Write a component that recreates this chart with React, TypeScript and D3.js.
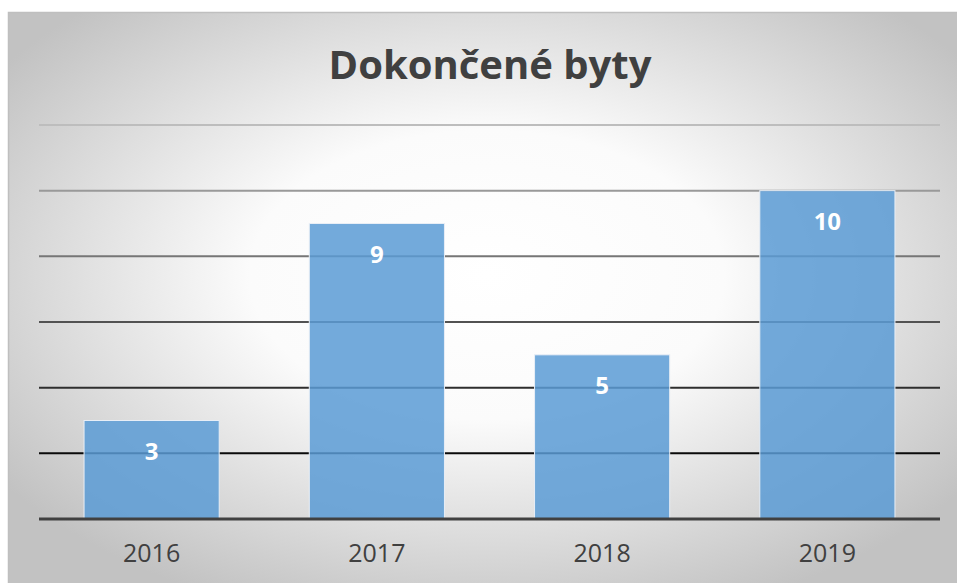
import React from 'react'
import * as d3 from 'd3'

const years = ['2016', '2017', '2018', '2019']
const values = [3, 9, 5, 10]
const gridTicks = [2, 4, 6, 8, 10, 12]
const title = 'Dokončené byty'

const W = 957
const H = 583

export default function App() {
  const x = d3.scaleBand().domain(years).range([39, 940]).paddingInner(0.4).paddingOuter(0.2)
  const y = d3.scaleLinear().domain([0, 12]).range([519, 125])
  const gridColor = d3.scaleLinear<string>().domain([125, 454]).range(['#bdbdbd', '#0a0a0a'])

  return (
    <svg width={W} height={H} style={{ position: 'absolute', left: 0, top: 0, fontFamily: 'Open Sans, sans-serif' }}>
      <defs>
        <radialGradient id="bg" cx="0.5" cy="0.45" r="0.62">
          <stop offset="0%" stopColor="#ffffff" />
          <stop offset="40%" stopColor="#fbfbfb" />
          <stop offset="100%" stopColor="#c2c2c2" />
        </radialGradient>
      </defs>
      <rect x={8.5} y={12.5} width={W} height={H} fill="url(#bg)" stroke="#bfbfbf" strokeWidth={1.5} />
      <text x={490} y={79} textAnchor="middle" fontSize={40} fontWeight="bold" fill="#404040">
        {title}
      </text>
      {gridTicks.map(t => (
        <line key={t} x1={39} x2={940} y1={y(t)} y2={y(t)} stroke={gridColor(y(t))} strokeWidth={2} />
      ))}
      {years.map((yr, i) => (
        <g key={yr}>
          <rect
            x={x(yr)}
            y={y(values[i])}
            width={x.bandwidth()}
            height={y(0) - y(values[i])}
            fill="#5b9bd5"
            fillOpacity={0.85}
            stroke="#e8eef6"
            strokeWidth={1}
          />
          <text
            x={(x(yr) as number) + x.bandwidth() / 2}
            y={y(values[i]) + 39}
            textAnchor="middle"
            fontSize={24}
            fontWeight="bold"
            fill="#ffffff"
          >
            {values[i]}
          </text>
          <text
            x={(x(yr) as number) + x.bandwidth() / 2}
            y={562}
            textAnchor="middle"
            fontSize={25}
            fill="#404040"
          >
            {yr}
          </text>
        </g>
      ))}
      <line x1={39} x2={940} y1={y(0)} y2={y(0)} stroke="#404040" strokeWidth={3} />
    </svg>
  )
}
